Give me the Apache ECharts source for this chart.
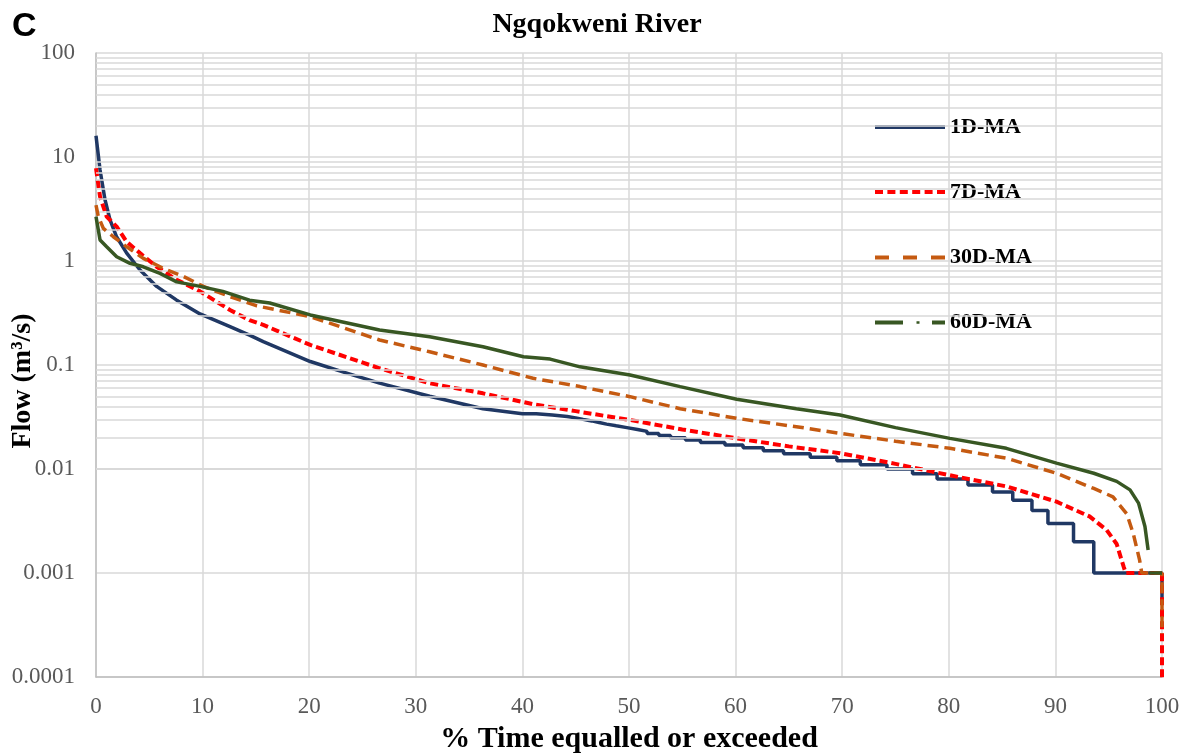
<!DOCTYPE html>
<html>
<head>
<meta charset="utf-8">
<script src="https://cdn.jsdelivr.net/npm/echarts@6/dist/echarts.min.js"></script>
<style>
html,body{margin:0;padding:0;background:#fff;}
#chart{width:1194px;height:755px;}
</style>
</head>
<body>
<div id="chart"></div>
<script>
// ---- data ----
const seriesNames = ['1D-MA', '7D-MA', '30D-MA', '60D-MA'];

// 1D-MA smooth upper part [% time, flow]
const oneDaySmooth = [[0,16],[0.38,7.5],[0.84,3.9],[1.31,2.5],[1.94,1.7],[2.88,1.19],[4.13,0.82],[5.69,0.57],[7.57,0.42],[9.76,0.31],[12.57,0.234],[14.4,0.194],[15.69,0.168],[20.1,0.108],[23.3,0.085],[26.6,0.067],[31.3,0.05],[36.3,0.038],[40.0,0.034]];
// 1D-MA stepped lower part (flows recorded to 0.001 m3/s)
const oneDayStepX = [41.3,42.8,44.2,45.0,45.7,46.5,47.2,47.9,48.8,49.8,50.8,51.7,52.8,53.9,55.3,56.7,59.0,60.7,62.6,64.5,67.0,69.5,71.7,74.2,76.6,78.9,81.8,84.1,86.0,87.8,89.3,91.7,93.6];
const oneDayStepY = [0.033,0.032,0.031,0.030,0.029,0.028,0.027,0.026,0.025,0.024,0.023,0.022,0.021,0.020,0.019,0.018,0.017,0.016,0.015,0.014,0.013,0.012,0.011,0.010,0.009,0.008,0.007,0.006,0.005,0.004,0.003,0.002,0.001];
const oneDayTail = [[100,0.001],[100,0.0005]];

const sevenDay = [[0,7.8],[0.38,4.15],[1.0,2.67],[1.94,2.14],[2.88,1.53],[4.13,1.19],[5.69,0.88],[7.57,0.66],[9.76,0.51],[12.57,0.338],[14.4,0.27],[15.69,0.243],[20.1,0.156],[26.6,0.093],[31.3,0.0667],[36.3,0.0534],[41,0.042],[45,0.036],[50.1,0.0296],[55,0.024],[60.1,0.0197],[65,0.0165],[69.8,0.0142],[75,0.0112],[80.1,0.0087],[85.4,0.0068],[90.1,0.00485],[93.2,0.0035],[94.8,0.00259],[95.75,0.0019],[96.4,0.00115],[96.6,0.001],[100,0.001],[100,0.00001]];

const thirtyDay = [[0,3.45],[0.22,2.67],[0.69,2.06],[1.63,1.71],[2.88,1.37],[4.44,1.06],[6.3,0.85],[8.2,0.71],[10.07,0.57],[12.57,0.454],[15.1,0.37],[20.1,0.292],[26.6,0.174],[31.3,0.134],[36.3,0.10],[41,0.0745],[45.4,0.062],[50.1,0.0496],[54.8,0.038],[60.1,0.0307],[65.7,0.0255],[69.8,0.022],[75,0.0185],[80.1,0.0158],[85.4,0.0127],[90.1,0.0091],[93.6,0.0065],[95.4,0.0054],[96.7,0.0037],[97.3,0.0024],[97.9,0.00133],[98.1,0.001],[100,0.001],[100,0.00026]];

const sixtyDay = [[0,2.67],[0.38,1.59],[1.0,1.37],[1.94,1.1],[3.19,0.95],[4.44,0.88],[6.0,0.76],[7.57,0.63],[9.76,0.57],[11.9,0.51],[14.4,0.42],[16.3,0.395],[20.1,0.303],[26.6,0.217],[31.3,0.187],[36.3,0.15],[40.1,0.12],[42.6,0.114],[45.4,0.096],[50.1,0.080],[54.8,0.062],[60.1,0.0468],[65.7,0.038],[69.8,0.033],[75,0.025],[80.1,0.0197],[85.4,0.0158],[90.1,0.0114],[93.6,0.0091],[95.75,0.0076],[97.0,0.0063],[97.8,0.0047],[98.4,0.0028],[98.7,0.00166],[98.75,'-'],[98.8,0.001],[100,0.001]];

// log-axis minor gridline multipliers and decades
const minorMultipliers = [2,3,4,5,6,7,8,9];
const decades = [0.0001,0.001,0.01,0.1,1,10];

// ---- build ----
const oneDay = oneDaySmooth.slice();
let prev = oneDaySmooth[oneDaySmooth.length - 1][1];
oneDayStepX.forEach((x, i) => { oneDay.push([x, prev]); oneDay.push([x, oneDayStepY[i]]); prev = oneDayStepY[i]; });
oneDayTail.forEach(p => oneDay.push(p));

const minorLines = [];
decades.forEach(d => minorMultipliers.forEach(m => minorLines.push({ yAxis: +(d * m).toPrecision(3) })));

const colors = ['#203864', '#FF0000', '#C55A11', '#385723'];
const icons = [
  'path://M0,0H70V4H0Z',
  'path://M0,0H8V4H0Z M12.4,0H20.4V4H12.4Z M24.8,0H32.8V4H24.8Z M37.2,0H45.2V4H37.2Z M49.6,0H57.6V4H49.6Z M62,0H70V4H62Z',
  'path://M0,0H14V4H0Z M28,0H42V4H28Z M56,0H70V4H56Z',
  'path://M0,0H28V4H0Z M41.5,0.8H44.5V3.2H41.5Z M57,0H70V4H57Z'
];
const legendTops = [115, 180, 245.5, 310.5];

const serif = '"Liberation Serif", "Times New Roman", serif';

const chart = echarts.init(document.getElementById('chart'), null, { renderer: 'canvas' });
const option = {
  animation: false,
  backgroundColor: '#ffffff',
  title: {
    text: 'Ngqokweni River',
    left: 'center',
    top: 6,
    padding: [5, 0, 5, 64],
    textStyle: { fontFamily: serif, fontWeight: 'bold', fontSize: 28, color: '#000' }
  },
  graphic: [{
    type: 'text', left: 12, top: 10,
    style: { text: 'C', font: 'bold 34px "Liberation Sans", Arial, sans-serif', fill: '#000' }
  }],
  legend: seriesNames.map((n, i) => ({
    data: [{ name: n, icon: icons[i] }],
    left: 875,
    top: legendTops[i],
    itemWidth: 70,
    itemHeight: 4,
    itemGap: 0,
    padding: 0,
    itemStyle: { borderWidth: 0 },
    textStyle: { fontFamily: serif, fontWeight: 'bold', fontSize: 22, color: '#000', lineHeight: 24 },
    selectedMode: false
  })),
  grid: { left: 96, right: 32, top: 53, bottom: 78, containLabel: false, outerBoundsMode: 'none' },
  xAxis: {
    type: 'value', min: 0, max: 100, interval: 10,
    name: '% Time equalled or exceeded',
    nameLocation: 'middle', nameGap: 47, nameMoveOverlap: false,
    nameTextStyle: { fontFamily: serif, fontWeight: 'bold', fontSize: 30, color: '#000' },
    axisLine: { show: true, lineStyle: { color: '#bfbfbf', width: 1.5 } },
    axisTick: { show: false },
    axisLabel: { fontFamily: serif, fontSize: 23, color: '#595959', margin: 18 },
    splitLine: { show: true, lineStyle: { color: '#d9d9d9', width: 1.5 } }
  },
  yAxis: {
    type: 'log', logBase: 10, min: 0.0001, max: 100, splitNumber: 6,
    name: 'Flow (m³/s)',
    nameLocation: 'middle', nameGap: 59, nameRotate: 90, nameMoveOverlap: false,
    nameTextStyle: { fontFamily: serif, fontWeight: 'bold', fontSize: 28, color: '#000', padding: [0, 32, 0, 0] },
    axisLine: { show: true, lineStyle: { color: '#bfbfbf', width: 1.5 } },
    axisTick: { show: false },
    axisLabel: { fontFamily: serif, fontSize: 23, color: '#595959', margin: 21, formatter: v => String(v) },
    splitLine: { show: true, lineStyle: { color: '#d9d9d9', width: 1.5 } }
  },
  series: [
    {
      name: '__minor', type: 'line', data: [], z: 1, silent: true,
      markLine: {
        silent: true, symbol: ['none', 'none'], label: { show: false },
        lineStyle: { color: '#d9d9d9', width: 1.5, type: 'solid' },
        emphasis: { disabled: true },
        data: minorLines, animation: false
      }
    },
    {
      name: seriesNames[0], type: 'line', data: oneDay, showSymbol: false, symbol: 'none', z: 3,
      color: colors[0], lineStyle: { color: colors[0], width: 3.5, type: 'solid' }
    },
    {
      name: seriesNames[1], type: 'line', data: sevenDay, showSymbol: false, symbol: 'none', z: 4,
      color: colors[1], lineStyle: { color: colors[1], width: 4, type: [8, 4], cap: 'butt' }
    },
    {
      name: seriesNames[2], type: 'line', data: thirtyDay, showSymbol: false, symbol: 'none', z: 5,
      color: colors[2], lineStyle: { color: colors[2], width: 3.5, type: [11, 6], cap: 'butt' }
    },
    {
      name: seriesNames[3], type: 'line', data: sixtyDay, showSymbol: false, symbol: 'none', z: 6,
      color: colors[3], lineStyle: { color: colors[3], width: 3.5, type: 'solid' }
    }
  ]
};
chart.setOption(option);
</script>
</body>
</html>
